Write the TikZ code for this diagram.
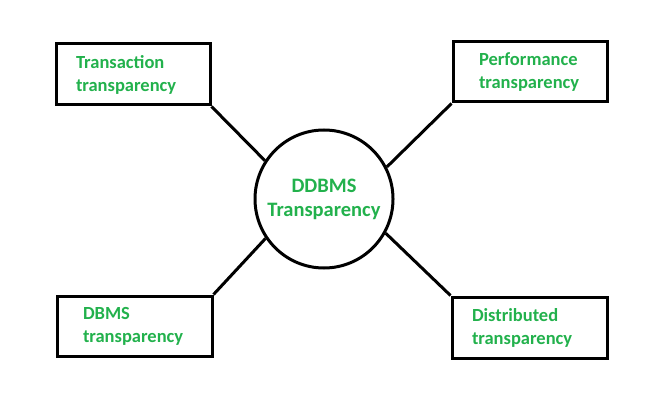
\documentclass[tikz,border=0pt]{standalone}
\usepackage{fontspec}
\setmainfont{Carlito}
\definecolor{txtgreen}{RGB}{34,177,76}
\tikzset{
  box/.style={draw=black, line width=3pt, rectangle, inner ysep=0pt, inner xsep=0pt,
    align=left, text=txtgreen, font=\bfseries\fontsize{18.5}{23}\selectfont},
  hub/.style={draw=black, line width=3pt, circle, minimum size=138pt, inner sep=0pt,
    align=center, text=txtgreen, font=\bfseries\fontsize{20.5}{24}\selectfont},
  link/.style={draw=black, line width=3pt}
}
\begin{document}
\begin{tikzpicture}[x=1pt,y=1pt]
\useasboundingbox (0,0) rectangle (660,402);
\node[hub] (c) at (324,203) {DDBMS\\Transparency};
\node[box, minimum width=154pt, minimum height=61pt, text width=114pt] (tl) at (133,327.5)
  {Transaction\\transparency};
\node[box, minimum width=154pt, minimum height=60pt, text width=102pt] (tr) at (530,330)
  {Performance\\transparency};
\node[box, minimum width=155pt, minimum height=60pt, text width=103pt] (bl) at (134.5,76)
  {DBMS\\transparency};
\node[box, minimum width=155pt, minimum height=61pt, text width=115pt] (br) at (529.5,74.5)
  {Distributed\\transparency};
\draw[link] (tl.south east) -- (c.147);
\draw[link] (tr.south west) -- (c.27);
\draw[link] (bl.north east) -- (c.214);
\draw[link] (br.north west) -- (c.331);
\end{tikzpicture}
\end{document}
